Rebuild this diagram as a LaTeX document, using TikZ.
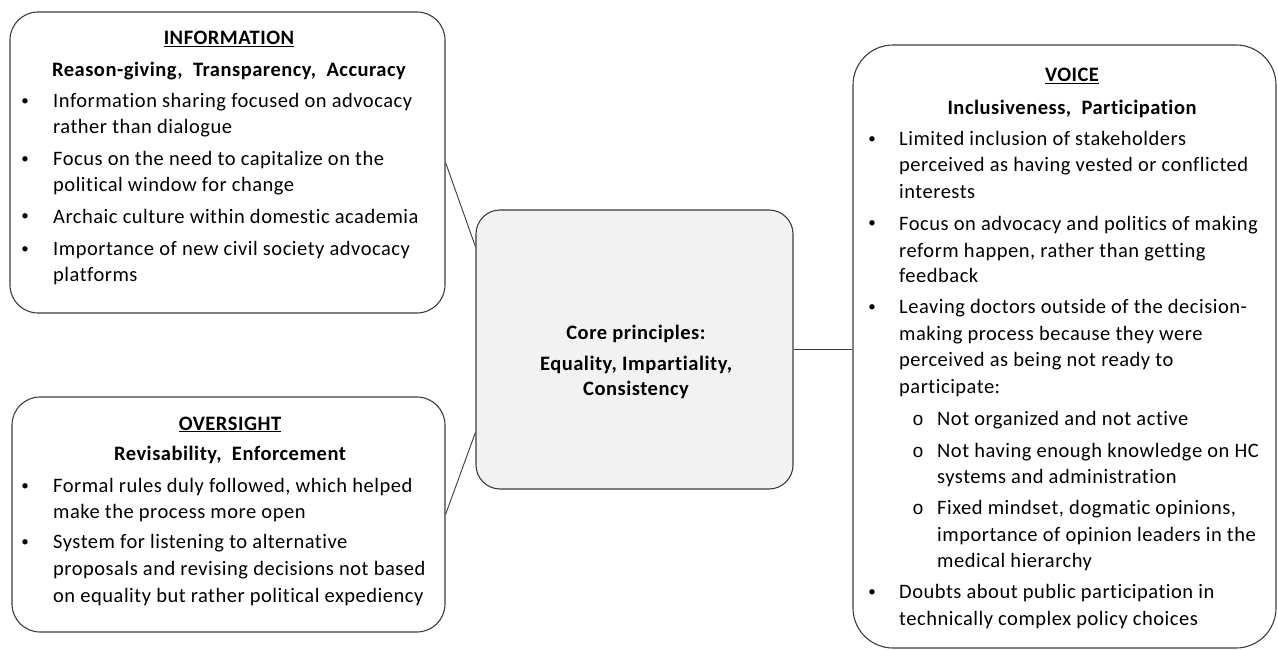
\documentclass[tikz,border=0pt]{standalone}
\usepackage{fontspec}
\setmainfont{Carlito}[LetterSpace=2.5, Ligatures=NoCommon]
\newfontfamily\monofnt{Liberation Mono}
\usetikzlibrary{calc}
\definecolor{edge}{HTML}{3C3C3C}
\definecolor{corefill}{HTML}{F2F2F2}
\tikzset{
  box/.style={draw=edge, line width=1.1pt, rounded corners=#1, inner sep=0pt},
  link/.style={draw=edge, line width=0.9pt},
  ln/.style={anchor=base west, inner sep=0pt, font=\fontsize{20.5}{24}\selectfont},
  ttl/.style={anchor=base, inner sep=0pt, font=\bfseries\fontsize{20.5}{24}\selectfont},
  bul/.style={anchor=base, inner sep=0pt, font=\fontsize{15}{18}\selectfont},
  sub/.style={anchor=base, inner sep=0pt, font=\monofnt\fontsize{19}{20}\selectfont},
}
\begin{document}
\begin{tikzpicture}[x=1pt, y=-1pt]
\useasboundingbox (0,0) rectangle (1278,650);

% frames
\node[box=28pt, minimum width=435pt, minimum height=301pt] (info) at (227.5,162.5) {};
\node[box=28pt, minimum width=433pt, minimum height=235pt] (over) at (228.5,514.5) {};
\node[box=24pt, fill=corefill, minimum width=317pt, minimum height=279pt] (core) at (634.5,349.5) {};
\node[box=40pt, minimum width=423pt, minimum height=603pt] (voice) at (1064.5,346.5) {};

% connectors
\draw[link] (info.east) -- ($(core.north west)!0.133!(core.south west)$);
\draw[link] (over.east) -- ($(core.north west)!0.796!(core.south west)$);
\draw[link] (core.east) -- (core.east -| voice.west);

% INFORMATION
\node[ttl] (it) at (229,45) {\underline{INFORMATION}};
\node[ttl] (is) at (229,77) {Reason-giving,\ \ Transparency,\ \ Accuracy};
\node[bul] (ib1) at (25,106) {•};
\node[ln] (i1) at (53,108) {Information sharing focused on advocacy};
\node[ln] (i2) at (53,134) {rather than dialogue};
\node[bul] (ib2) at (25,164) {•};
\node[ln] (i3) at (53,166) {Focus on the need to capitalize on the};
\node[ln] (i4) at (53,192) {political window for change};
\node[bul] (ib3) at (25,221) {•};
\node[ln] (i5) at (53,223) {Archaic culture within domestic academia};
\node[bul] (ib4) at (25,253) {•};
\node[ln] (i6) at (53,255) {Importance of new civil society advocacy};
\node[ln] (i7) at (53,281) {platforms};

% OVERSIGHT
\node[ttl] (ot) at (230,430) {\underline{OVERSIGHT}};
\node[ttl] (os) at (230,460) {Revisability,\ \ Enforcement};
\node[bul] (ob1) at (25,490) {•};
\node[ln] (o1) at (53,492) {Formal rules duly followed, which helped};
\node[ln] (o2) at (53,518) {make the process more open};
\node[bul] (ob2) at (25,546) {•};
\node[ln] (o3) at (53,548) {System for listening to alternative};
\node[ln] (o4) at (53,575) {proposals and revising decisions not based};
\node[ln] (o5) at (53,602) {on equality but rather political expediency};

% core principles
\node[ttl] (c1) at (636,339) {Core principles:};
\node[ttl] (c2) at (636,370) {Equality, Impartiality,};
\node[ttl] (c3) at (636,395) {Consistency};

% VOICE
\node[ttl] (vt) at (1072,82) {\underline{VOICE}};
\node[ttl] (vs) at (1072,115) {Inclusiveness,\ \ Participation};
\node[bul] (vb1) at (872,144) {•};
\node[ln] (v1) at (899,146) {Limited inclusion of stakeholders};
\node[ln] (v2) at (899,172) {perceived as having vested or conflicted};
\node[ln] (v3) at (899,198) {interests};
\node[bul] (vb2) at (872,228) {•};
\node[ln] (v4) at (899,230) {Focus on advocacy and politics of making};
\node[ln] (v5) at (899,257) {reform happen, rather than getting};
\node[ln] (v6) at (899,282) {feedback};
\node[bul] (vb3) at (872,311) {•};
\node[ln] (v7) at (899,313) {Leaving doctors outside of the decision-};
\node[ln] (v8) at (899,340) {making process because they were};
\node[ln] (v9) at (899,366) {perceived as being not ready to};
\node[ln] (v10) at (899,393) {participate:};
\node[sub] (vo1) at (918,425) {o};
\node[ln] (v11) at (937,425) {Not organized and not active};
\node[sub] (vo2) at (918,457) {o};
\node[ln] (v12) at (937,457) {Not having enough knowledge on HC};
\node[ln] (v13) at (937,483) {systems and administration};
\node[sub] (vo3) at (918,514) {o};
\node[ln] (v14) at (937,514) {Fixed mindset, dogmatic opinions,};
\node[ln] (v15) at (937,541) {importance of opinion leaders in the};
\node[ln] (v16) at (937,567) {medical hierarchy};
\node[bul] (vb4) at (872,596) {•};
\node[ln] (v17) at (899,598) {Doubts about public participation in};
\node[ln] (v18) at (899,625) {technically complex policy choices};
\end{tikzpicture}
\end{document}
